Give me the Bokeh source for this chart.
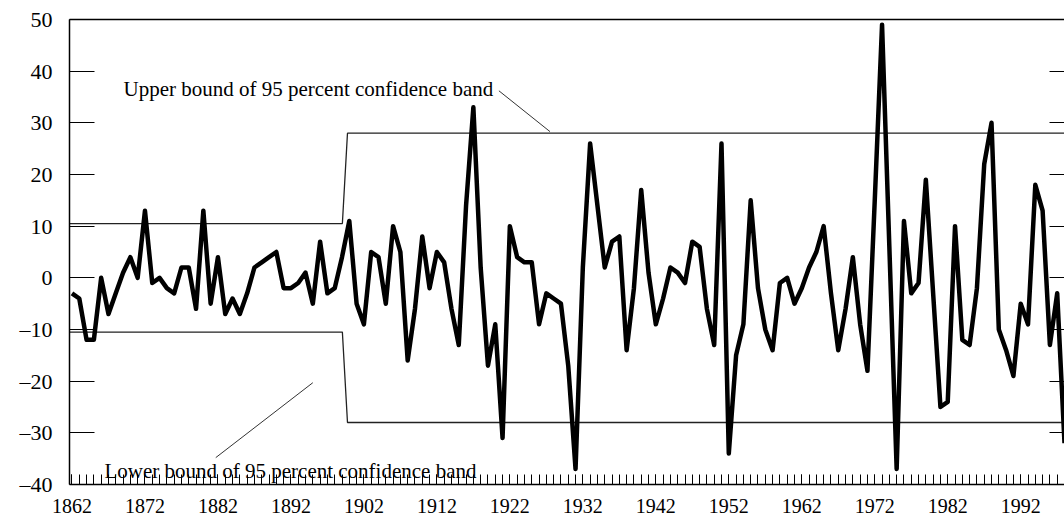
from bokeh.plotting import figure
from bokeh.models import Range1d, FixedTicker, LinearAxis, Label
from bokeh.embed import file_html
from bokeh.resources import INLINE

# Annual series, 1862-1998 (percent)
years = list(range(1862, 1999))
values = [
    -3, -4, -12, -12, 0, -7, -3, 1, 4, 0,          # 1862-1871
    13, -1, 0, -2, -3, 2, 2, -6, 13, -5,           # 1872-1881
    4, -7, -4, -7, -3, 2, 3, 4, 5, -2,             # 1882-1891
    -2, -1, 1, -5, 7, -3, -2, 4, 11, -5,           # 1892-1901
    -9, 5, 4, -5, 10, 5, -16, -6, 8, -2,           # 1902-1911
    5, 3, -6, -13, 14, 33, 2, -17, -9, -31,        # 1912-1921
    10, 4, 3, 3, -9, -3, -4, -5, -17, -37,         # 1922-1931
    2, 26, 14, 2, 7, 8, -14, -2, 17, 1,            # 1932-1941
    -9, -4, 2, 1, -1, 7, 6, -6, -13, 26,           # 1942-1951
    -34, -15, -9, 15, -2, -10, -14, -1, 0, -5,     # 1952-1961
    -2, 2, 5, 10, -3, -14, -6, 4, -9, -18,         # 1962-1971
    15, 49, 6, -37, 11, -3, -1, 19, -3, -25,       # 1972-1981
    -24, 10, -12, -13, -2, 22, 30, -10, -14, -19,  # 1982-1991
    -5, -9, 18, 13, -13, -3, -32,                  # 1992-1998
]

# 95 percent confidence band (widens around the turn of the century)
band_x = [1861.66, 1899.05, 1899.75, 1998.0]
band_upper = [10.5, 10.5, 28, 28]
band_lower = [-10.5, -10.5, -28, -28]

# Axis ticks and labels
x_label_years = list(range(1862, 1993, 10))
y_ticks = [-40, -30, -20, -10, 0, 10, 20, 30, 40, 50]
y_tick_labels = ["\u201340", "\u201330", "\u201320", "\u201310", "0", "10", "20", "30", "40", "50"]

FONT = "Liberation Serif"

p = figure(
    width=1064, height=515,
    x_range=Range1d(1861.66, 1998.0), y_range=Range1d(-40, 50),
    output_backend="svg", toolbar_location=None,
    min_border_left=69, min_border_top=19, min_border_right=0, min_border_bottom=0,
    x_axis_type=None, y_axis_type=None,
)
p.outline_line_color = None
p.xgrid.visible = False
p.ygrid.visible = False
p.background_fill_color = "white"
p.border_fill_color = "white"

# bottom axis: yearly minor ticks, labels every ten years
xa = LinearAxis(ticker=FixedTicker(ticks=x_label_years, minor_ticks=years))
xa.major_tick_in = 10
xa.major_tick_out = 0
xa.minor_tick_in = 10
xa.minor_tick_out = 0
xa.axis_line_width = 1.5
xa.major_tick_line_width = 1
xa.minor_tick_line_width = 1
xa.major_label_text_font = FONT
xa.major_label_text_font_size = "20px"
xa.major_label_text_color = "black"
xa.major_label_standoff = 14
p.add_layout(xa, "below")

# left axis
ya = LinearAxis(ticker=FixedTicker(ticks=y_ticks, minor_ticks=[]))
ya.major_tick_in = 25
ya.major_tick_out = 0
ya.minor_tick_line_color = None
ya.axis_line_width = 1.5
ya.major_tick_line_width = 1
ya.major_label_text_font = FONT
ya.major_label_text_font_size = "22px"
ya.major_label_text_color = "black"
ya.major_label_standoff = 17
ya.major_label_overrides = {t: s for t, s in zip(y_ticks, y_tick_labels)}
p.add_layout(ya, "left")

# right axis: inward ticks only
yr = LinearAxis(ticker=FixedTicker(ticks=y_ticks, minor_ticks=[]))
yr.major_tick_in = 15
yr.major_tick_out = 0
yr.minor_tick_line_color = None
yr.axis_line_color = None
yr.major_tick_line_width = 1
yr.major_label_text_font_size = "1px"
yr.major_label_text_color = None
yr.major_label_standoff = 0
p.add_layout(yr, "right")

# top border
top = LinearAxis(ticker=FixedTicker(ticks=[], minor_ticks=[]))
top.major_tick_line_color = None
top.minor_tick_line_color = None
top.axis_line_width = 1.5
top.major_label_text_font_size = "1px"
top.major_label_text_color = None
top.major_label_standoff = 0
p.add_layout(top, "above")

# confidence band
p.line(band_x, band_upper, line_color="#222222", line_width=1.3)
p.line(band_x, band_lower, line_color="#222222", line_width=1.3)

# series
p.line(years, values, line_color="black", line_width=4.5, line_join="round")

# annotations with leader lines
p.segment(x0=[1920.5], y0=[36.2], x1=[1927.5], y1=[28.3], line_color="#333333", line_width=1)
p.segment(x0=[1881.7], y0=[-34.8], x1=[1895.0], y1=[-20.3], line_color="#333333", line_width=1)

p.add_layout(Label(x=1869.06, y=36.6, text="Upper bound of 95 percent confidence band",
                   text_font=FONT, text_font_size="21px", text_color="black",
                   text_baseline="middle"))
p.add_layout(Label(x=1866.45, y=-37.3, text="Lower bound of 95 percent confidence band",
                   text_font=FONT, text_font_size="21px", text_color="black",
                   text_baseline="middle"))

open("out.html", "w").write(file_html(p, INLINE))
